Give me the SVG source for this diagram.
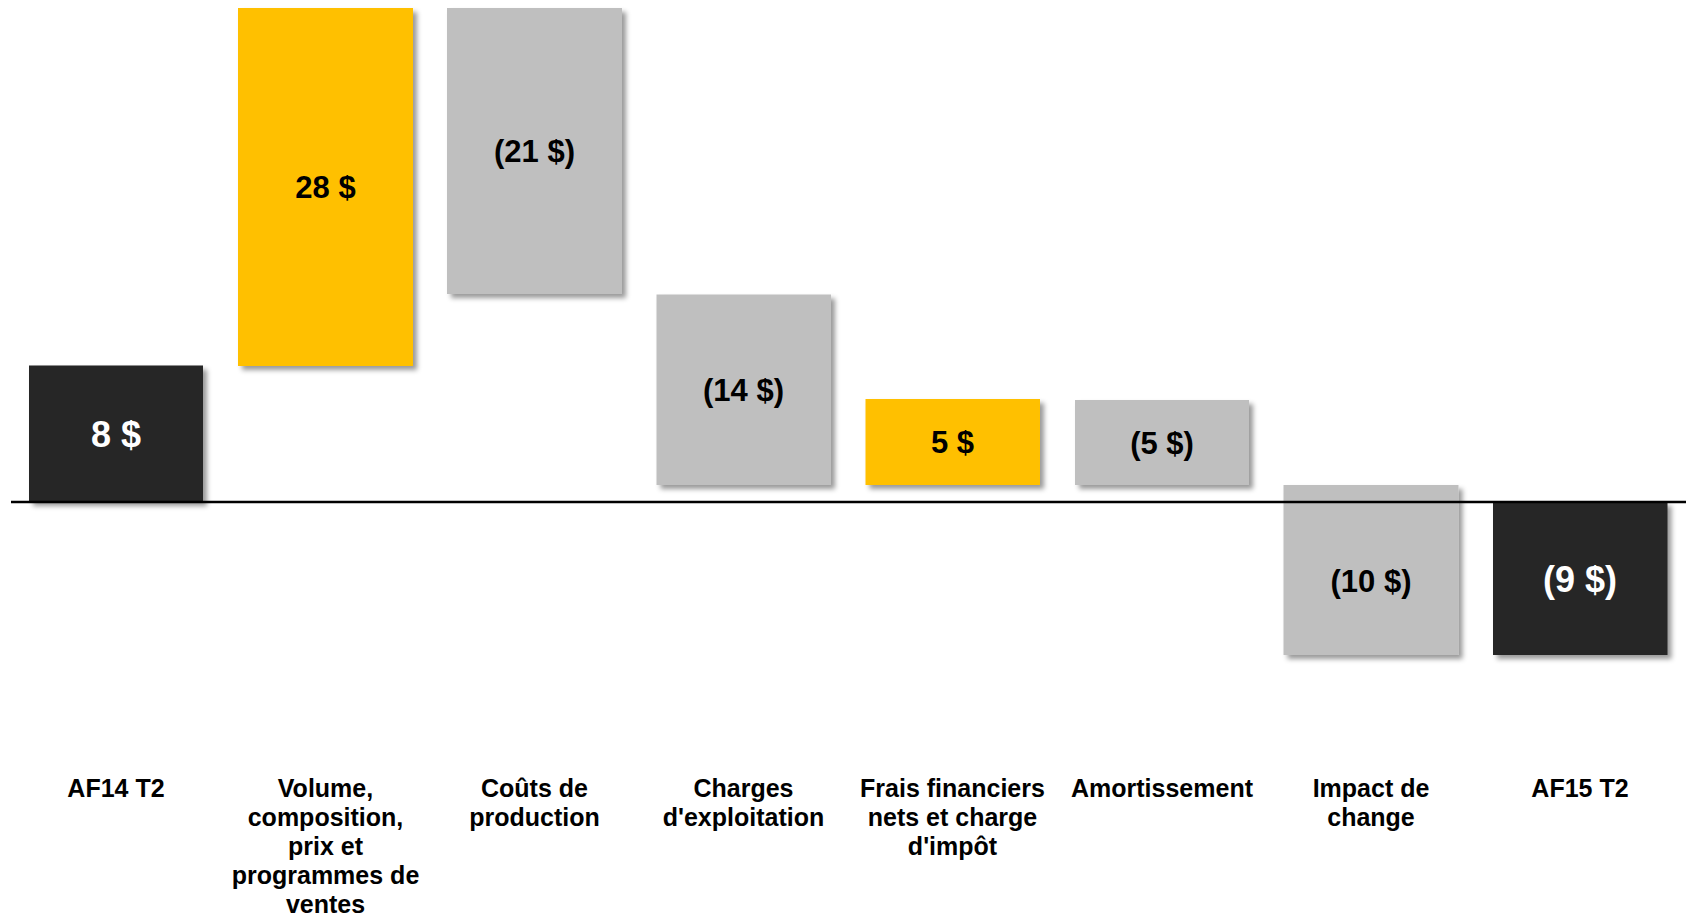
<svg xmlns="http://www.w3.org/2000/svg" width="1686" height="916" viewBox="0 0 1686 916">
<defs>
<filter id="sh" x="-10%" y="-10%" width="130%" height="130%">
<feDropShadow dx="4" dy="4" stdDeviation="2.5" flood-color="#000" flood-opacity="0.4"/>
</filter>
<style>
.dark{fill:#262626;filter:url(#sh)}
.yel{fill:#FFC000;filter:url(#sh)}
.gry{fill:#BFBFBF;filter:url(#sh)}
.v{font-family:"Liberation Sans",Arial,sans-serif;font-weight:bold;font-size:31px;text-anchor:middle;fill:#000}
.vw{font-family:"Liberation Sans",Arial,sans-serif;font-weight:bold;font-size:36px;text-anchor:middle;fill:#fff}
.c{font-family:"Liberation Sans",Arial,sans-serif;font-weight:bold;font-size:25px;text-anchor:middle;fill:#000}
</style>
</defs>
<rect width="1686" height="916" fill="#fff"/>
<g id="bar-af14">
<rect class="dark" x="29" y="365.5" width="174" height="136.5"/>
<text class="vw" x="116" y="446.5">8 $</text>
</g>
<g id="bar-volume">
<rect class="yel" x="238" y="8" width="175" height="358"/>
<text class="v" x="325.5" y="198">28 $</text>
</g>
<g id="bar-couts">
<rect class="gry" x="447" y="8" width="175" height="286"/>
<text class="v" x="534.5" y="162">(21 $)</text>
</g>
<g id="bar-charges">
<rect class="gry" x="656.5" y="294.5" width="174.5" height="190.5"/>
<text class="v" x="743.5" y="401">(14 $)</text>
</g>
<g id="bar-frais">
<rect class="yel" x="865.5" y="399" width="174.5" height="86"/>
<text class="v" x="952.5" y="453">5 $</text>
</g>
<g id="bar-amort">
<rect class="gry" x="1075" y="400" width="174" height="85"/>
<text class="v" x="1162" y="453.5">(5 $)</text>
</g>
<g id="bar-impact">
<rect class="gry" x="1283.5" y="485" width="175" height="170"/>
<text class="v" x="1371" y="592">(10 $)</text>
</g>
<g id="bar-af15">
<rect class="dark" x="1493" y="502" width="174.5" height="153"/>
<text class="vw" x="1580" y="592">(9 $)</text>
</g>
<g id="connectors">
<line x1="11" y1="502" x2="1686" y2="502" stroke="#000" stroke-width="2.5"/>
</g>
<g id="labels">
<text class="c" x="116" y="797">AF14 T2</text>
<text class="c" x="325.5" y="797">Volume,</text>
<text class="c" x="325.5" y="826">composition,</text>
<text class="c" x="325.5" y="855">prix et</text>
<text class="c" x="325.5" y="884">programmes de</text>
<text class="c" x="325.5" y="913">ventes</text>
<text class="c" x="534.5" y="797">Coûts de</text>
<text class="c" x="534.5" y="826">production</text>
<text class="c" x="743.5" y="797">Charges</text>
<text class="c" x="743.5" y="826">d'exploitation</text>
<text class="c" x="952.5" y="797">Frais financiers</text>
<text class="c" x="952.5" y="826">nets et charge</text>
<text class="c" x="952.5" y="855">d'impôt</text>
<text class="c" x="1162" y="797">Amortissement</text>
<text class="c" x="1371" y="797">Impact de</text>
<text class="c" x="1371" y="826">change</text>
<text class="c" x="1580" y="797">AF15 T2</text>
</g>
</svg>
